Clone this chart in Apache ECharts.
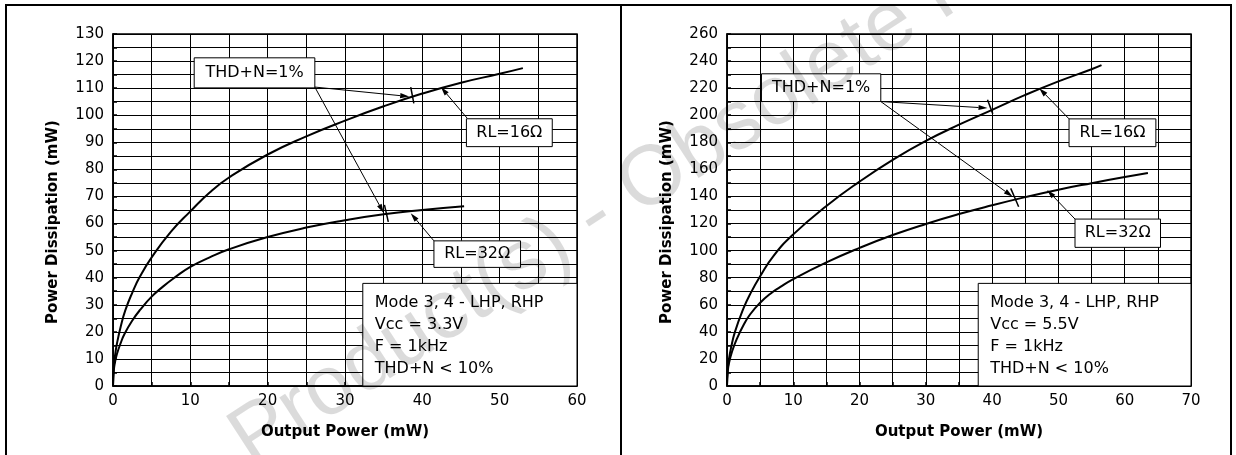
<!DOCTYPE html>
<html>
<head>
<meta charset="utf-8">
<script src="https://cdn.jsdelivr.net/npm/echarts@6/dist/echarts.min.js"></script>
<style>
html, body { margin: 0; padding: 0; background: #fff; }
#main { width: 1236px; height: 455px; }
</style>
</head>
<body>
<div id="main"></div>
<script>
// ---- data (mW) ----
// left plot, Vcc = 3.3V
var pOutL16  = [0, 0.1, 0.25, 0.5, 1, 1.6, 2.5, 3.5, 5, 7.5, 10, 12.5, 15, 20, 25, 30, 35, 40, 45, 50, 53];
var pDissL16 = [0, 7, 11, 15.5, 22, 28, 34.5, 40.5, 47.5, 57, 64.5, 71.5, 77, 85.5, 92.2, 98, 103.3, 108, 112, 115.3, 117.4];
var pOutL32  = [0, 0.1, 0.25, 0.5, 1, 1.5, 2.5, 3.5, 5, 6.5, 8, 10, 12.5, 15, 20, 25, 30, 35, 40, 45.4];
var pDissL32 = [0, 5.7, 8.6, 11.7, 15.9, 19.3, 24.2, 28.1, 33, 36.8, 40.1, 44, 47.5, 50.5, 55, 58.5, 61.2, 63.4, 65, 66.4];
// right plot, Vcc = 5.5V
var pOutR16  = [0, 0.1, 0.3, 0.6, 1.2, 2.5, 3.5, 5, 7, 10, 15, 20, 25, 30, 35, 40, 45, 50, 55, 56.5];
var pDissR16 = [0, 11.5, 20, 28, 40, 57.5, 68, 81, 96, 112, 133, 151, 167, 181, 193, 204, 215, 225, 234, 237];
var pOutR32  = [0, 0.1, 0.3, 0.8, 1.5, 2.5, 3.5, 5, 6.5, 8, 10, 15, 20, 25, 30, 35, 40, 45, 50, 55, 60, 63.5];
var pDissR32 = [0, 10, 17, 26, 35, 45, 53, 61.5, 68, 73, 79, 91.3, 102, 111.5, 119.7, 127, 133.5, 139.5, 145, 149.8, 154.3, 157.3];

var xMaxL = 60, xMaxR = 70;
var yMaxL = 130, yMaxR = 260;
var yStepL = 10, yStepR = 20;

var xTitle = 'Output Power (mW)';
var yTitle = 'Power Dissipation (mW)';
var thdText = 'THD+N=1%';
var rl16Text = 'RL=16Ω';
var rl32Text = 'RL=32Ω';
var condL = ['Mode 3, 4 - LHP, RHP', 'Vcc = 3.3V', 'F = 1kHz', 'THD+N < 10%'];
var condR = ['Mode 3, 4 - LHP, RHP', 'Vcc = 5.5V', 'F = 1kHz', 'THD+N < 10%'];
var watermark = 'Product(s) - Obsolete Product(s)';

// annotation anchors, in data coordinates of each plot
var annL = {
    thdBox: [[10.5, 121.2], [26.1, 110.1]],
    thdArrows: [[[26.1, 110.4], [38.3, 106.9]], [[26.1, 110.4], [35.0, 63.9]]],
    marks: [[[38.5, 110.4], [38.9, 104.4]], [[35.1, 66.9], [35.6, 60.6]]],
    rl16Box: [[45.7, 98.7], [56.8, 88.4]],
    rl16Arrow: [[45.8, 98.9], [42.4, 110.4]],
    rl32Box: [[41.5, 53.6], [52.7, 43.8]],
    rl32Arrow: [[41.5, 53.6], [38.5, 63.8]],
    condBox: [[32.3, 37.9], [60, 0]],
    cond: condL
};
var annR = {
    thdBox: [[5.2, 230.6], [23.2, 210.1]],
    thdArrows: [[[23.2, 210.1], [39.3, 205.3]], [[23.2, 210.1], [43.1, 139.8]]],
    marks: [[[39.3, 211.4], [40.1, 201.0]], [[42.8, 146], [44.0, 132.4]]],
    rl16Box: [[51.6, 197.3], [64.7, 176.8]],
    rl16Arrow: [[51.6, 197.3], [47.1, 220]],
    rl32Box: [[52.5, 123.3], [65.4, 102.4]],
    rl32Arrow: [[52.5, 123.3], [48.3, 144.8]],
    condBox: [[37.9, 75.8], [70, 0]],
    cond: condR
};

var FONT = 'DejaVu Sans';

function pairs(xs, ys) {
    var out = [];
    for (var i = 0; i < xs.length; i++) {
        out.push([xs[i], ys[i]]);
    }
    return out;
}

function xAxisOf(gi, max) {
    return {
        type: 'value', gridIndex: gi, min: 0, max: max, interval: 10,
        name: xTitle, nameLocation: 'middle', nameGap: 39,
        nameTextStyle: { fontFamily: FONT, fontSize: 15, fontWeight: 'bold', color: '#000' },
        axisLine: { show: true, onZero: false, lineStyle: { color: '#000', width: 1.5 } },
        axisTick: { show: true, inside: true, length: 4, lineStyle: { color: '#000', width: 1.5 } },
        minorTick: { show: true, splitNumber: 2, length: 4, lineStyle: { color: '#000', width: 1.5 } },
        splitLine: { show: true, lineStyle: { color: '#000', width: 1 } },
        minorSplitLine: { show: true, lineStyle: { color: '#000', width: 1 } },
        axisLabel: { fontFamily: FONT, fontSize: 15, color: '#000', margin: 8 }
    };
}

function yAxisOf(gi, max, step) {
    return {
        type: 'value', gridIndex: gi, min: 0, max: max, interval: step,
        name: yTitle, nameLocation: 'middle', nameGap: 52, nameRotate: 90,
        nameTextStyle: { fontFamily: FONT, fontSize: 15, fontWeight: 'bold', color: '#000', padding: [0, 24, 0, 0] },
        axisLine: { show: true, onZero: false, lineStyle: { color: '#000', width: 1.5 } },
        axisTick: { show: true, inside: true, length: 4, lineStyle: { color: '#000', width: 1.5 } },
        minorTick: { show: true, splitNumber: 2, length: 4, lineStyle: { color: '#000', width: 1.5 } },
        splitLine: { show: true, lineStyle: { color: '#000', width: 1 } },
        minorSplitLine: { show: true, lineStyle: { color: '#000', width: 1 } },
        axisLabel: { fontFamily: FONT, fontSize: 15, color: '#000', margin: 9 }
    };
}

function curve(gi, xs, ys) {
    return {
        type: 'line', xAxisIndex: gi, yAxisIndex: gi,
        data: pairs(xs, ys),
        smooth: 0.5,
        showSymbol: false, silent: true,
        lineStyle: { color: '#000', width: 2 }
    };
}

var myChart = echarts.init(document.getElementById('main'));

var option = {
    backgroundColor: '#fff',
    animation: false,
    grid: [
        { left: 113, top: 34, width: 464, height: 352, show: true, borderColor: '#000', borderWidth: 1.5 },
        { left: 727, top: 34, width: 464, height: 352, show: true, borderColor: '#000', borderWidth: 1.5 }
    ],
    xAxis: [xAxisOf(0, xMaxL), xAxisOf(1, xMaxR)],
    yAxis: [yAxisOf(0, yMaxL, yStepL), yAxisOf(1, yMaxR, yStepR)],
    series: [
        curve(0, pOutL16, pDissL16),
        curve(0, pOutL32, pDissL32),
        curve(1, pOutR16, pDissR16),
        curve(1, pOutR32, pDissR32)
    ]
};
myChart.setOption(option);

// ---- annotations, placed through the axes ----
function toPx(gi, pt) {
    return myChart.convertToPixel({ gridIndex: gi }, pt);
}

function line(a, b, w) {
    return {
        type: 'line', z: 20, silent: true,
        shape: { x1: a[0], y1: a[1], x2: b[0], y2: b[1] },
        style: { stroke: '#000', lineWidth: w }
    };
}

function arrow(gi, seg) {
    var a = toPx(gi, seg[0]), b = toPx(gi, seg[1]);
    var dx = b[0] - a[0], dy = b[1] - a[1];
    var len = Math.sqrt(dx * dx + dy * dy);
    var ux = dx / len, uy = dy / len;
    var hl = 9, hw = 2.6;
    var bx = b[0] - ux * hl, by = b[1] - uy * hl;
    return [
        line(a, [bx, by], 1),
        {
            type: 'polygon', z: 20, silent: true,
            shape: { points: [b, [bx - uy * hw, by + ux * hw], [bx + uy * hw, by - ux * hw]] },
            style: { fill: '#000' }
        }
    ];
}

function box(gi, b, text, left) {
    var p0 = toPx(gi, b[0]), p1 = toPx(gi, b[1]);
    var out = [{
        type: 'rect', z: 15, silent: true,
        shape: { x: p0[0], y: p0[1], width: p1[0] - p0[0], height: p1[1] - p0[1] },
        style: { fill: '#fff', stroke: '#000', lineWidth: 1 }
    }];
    if (left) {
        out.push({
            type: 'text', z: 16, silent: true,
            style: {
                x: p0[0] + 12, y: p0[1] + 8, text: text,
                font: '16px ' + FONT, fill: '#000', lineHeight: 22,
                textAlign: 'left', textVerticalAlign: 'top'
            }
        });
    } else {
        out.push({
            type: 'text', z: 16, silent: true,
            style: {
                x: (p0[0] + p1[0]) / 2, y: (p0[1] + p1[1]) / 2, text: text,
                font: '16px ' + FONT, fill: '#000',
                textAlign: 'center', textVerticalAlign: 'middle'
            }
        });
    }
    return out;
}

function panel(gi, ann) {
    var g = [];
    g = g.concat(box(gi, ann.thdBox, thdText));
    g = g.concat(arrow(gi, ann.thdArrows[0]));
    g = g.concat(arrow(gi, ann.thdArrows[1]));
    ann.marks.forEach(function (m) {
        g.push(line(toPx(gi, m[0]), toPx(gi, m[1]), 1.5));
    });
    g = g.concat(box(gi, ann.rl16Box, rl16Text));
    g = g.concat(arrow(gi, ann.rl16Arrow));
    g = g.concat(box(gi, ann.rl32Box, rl32Text));
    g = g.concat(arrow(gi, ann.rl32Arrow));
    g = g.concat(box(gi, ann.condBox, ann.cond.join('\n'), true));
    return g;
}

var graphics = [];
graphics = graphics.concat(panel(0, annL));
graphics = graphics.concat(panel(1, annR));

// outer frame of the page
graphics.push(line([5, 5], [1232, 5], 2));
graphics.push(line([6, 5], [6, 460], 2));
graphics.push(line([621, 5], [621, 460], 2));
graphics.push(line([1231, 5], [1231, 460], 2));

// watermark over everything
graphics.push({
    type: 'text', z: 100, silent: true,
    x: 262, y: 484, rotation: 33 * Math.PI / 180,
    style: {
        text: watermark, font: '84px "Liberation Sans"',
        fill: 'rgba(0,0,0,0.14)', textAlign: 'left', textVerticalAlign: 'bottom'
    }
});

myChart.setOption({ graphic: graphics });
</script>
</body>
</html>
